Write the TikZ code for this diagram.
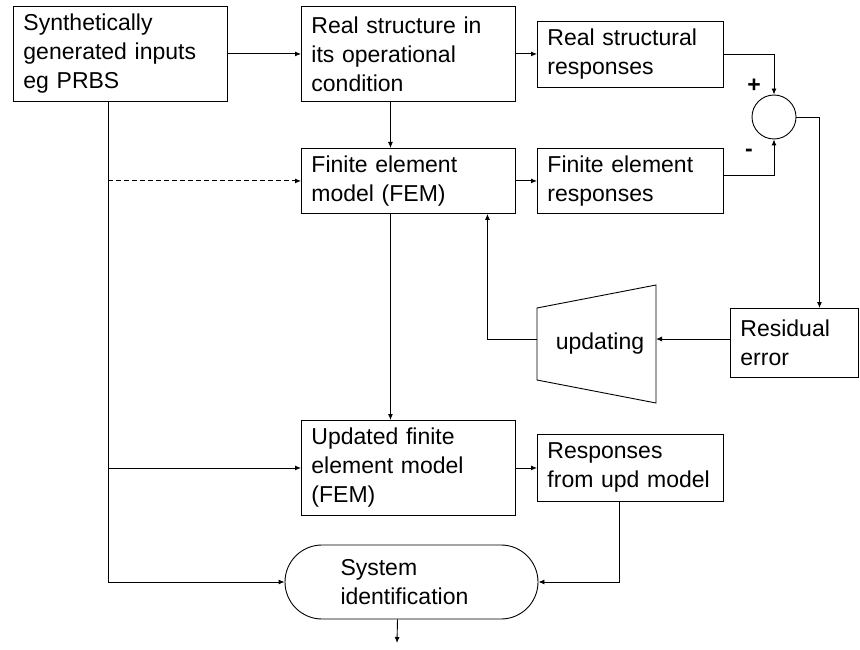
\documentclass[tikz,border=0pt]{standalone}
\usepackage{fontspec}
\setmainfont{Liberation Sans}
\usetikzlibrary{arrows.meta}

\begin{document}
\begin{tikzpicture}[x=1pt,y=-1pt,line width=0.9pt,
  blk/.style={draw,anchor=north west,inner xsep=10pt,inner ysep=0pt,align=left,
    font=\fontsize{23}{29}\selectfont},
  arr/.style={-{Latex[length=6pt,width=5pt]}},
  txt/.style={font=\fontsize{23}{29}\selectfont}]
  \useasboundingbox (0,0) rectangle (860,650);

  \node[blk,text width=194pt,minimum height=95pt] (gen) at (13,6) {Synthetically\\generated inputs\\eg PRBS};
  \node[blk,text width=194pt,minimum height=95pt] (real) at (301,6) {Real structure in\\its operational\\condition};
  \node[blk,text width=166pt,minimum height=66pt] (realresp) at (537,21) {Real structural\\responses};
  \node[blk,text width=194pt,minimum height=65pt] (fem) at (301,148) {Finite element\\model (FEM)};
  \node[blk,text width=166pt,minimum height=65pt] (femresp) at (537,148) {Finite element\\responses};
  \node[draw,circle,minimum size=44pt,inner sep=0pt] (sum) at (774,117) {};
  \node[txt] (plus) at (754,86) {\textbf{+}};
  \node[txt] (minus) at (749,153) {\textbf{-}};
  \node[blk,text width=108pt,minimum height=69pt] (resid) at (730,308) {Residual\\error};

  \draw (537,308) -- (656,285) -- (656,403) -- (537,380) -- cycle;
  \node[txt] (upd) at (600,344) {updating};
  \coordinate (updin) at (656,339);
  \coordinate (updout) at (537,339);

  \node[blk,text width=194pt,minimum height=95pt] (ufem) at (301,420) {Updated finite\\element model\\(FEM)};
  \node[blk,text width=166pt,minimum height=67pt] (uresp) at (537,434) {Responses\\from upd model};
  \node[draw,rounded corners=37pt,minimum width=253pt,minimum height=74pt,
    text width=142pt,align=left,txt] (sysid) at (411.5,582) {System\\identification};
  \coordinate (out) at (397,643);
  \coordinate (trunk) at ([xshift=-12pt]gen.south);

  \draw[arr] (gen.east) -- (real.west);
  \draw[arr] (real.east) -- (real.east -| realresp.west);
  \draw[arr] (realresp.east) -| (sum.north);
  \draw[arr] ([yshift=5pt]femresp.east) -| (sum.south);
  \draw[arr] ([xshift=-18pt]real.south) -- ([xshift=-18pt]fem.north);
  \draw[arr] (fem.east) -- (femresp.west);
  \draw[arr] (sum.east) -| ([xshift=25pt]resid.north);
  \draw[arr] (resid.west |- updin) -- (updin);
  \draw[arr] (updout) -| ([xshift=79pt]fem.south);
  \draw[arr] ([xshift=-18pt]fem.south) -- ([xshift=-18pt]ufem.north);
  \draw[arr] (ufem.east) -- (uresp.west);
  \draw[arr] ([xshift=-11pt]uresp.south) |- (sysid.east);
  \draw[arr] ([xshift=-14pt]sysid.south) -- (out);

  \draw[arr] (trunk) |- (sysid.west);
  \draw[arr,dash pattern=on 5pt off 3pt] (trunk |- fem.west) -- (fem.west);
  \draw[arr] (trunk |- ufem.west) -- (ufem.west);
\end{tikzpicture}
\end{document}
